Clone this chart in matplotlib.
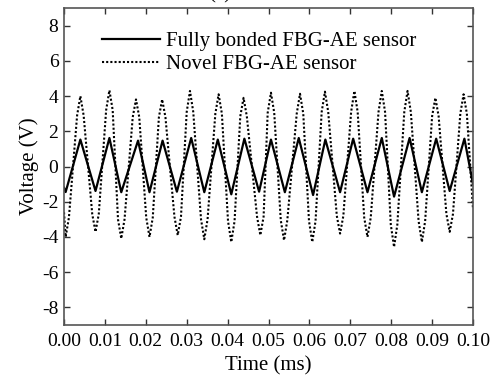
import matplotlib
matplotlib.use('Agg')
import matplotlib.pyplot as plt

# solid trace: peaks / troughs (time in ms, voltage in V)
solid_t = [0.0, 0.0004, 0.0040, 0.0077, 0.0111, 0.0140, 0.0181, 0.0209, 0.0241, 0.0276,
           0.0311, 0.0343, 0.0376, 0.0409, 0.0441, 0.0477, 0.0506, 0.0540, 0.0574, 0.0609,
           0.0639, 0.0675, 0.0707, 0.0742, 0.0777, 0.0807, 0.0845, 0.0875, 0.0910, 0.0943,
           0.0979, 0.1000]
solid_v = [-1.2, -1.45, 1.53, -1.39, 1.62, -1.46, 1.47, -1.46, 1.47, -1.43,
           1.62, -1.46, 1.53, -1.58, 1.58, -1.43, 1.53, -1.46, 1.62, -1.62,
           1.53, -1.46, 1.58, -1.46, 1.62, -1.71, 1.62, -1.46, 1.58, -1.39,
           1.58, -1.0]

# dotted trace: peaks / troughs plus shoulders either side
dotted_t = [0.0000, 0.0004, 0.0012,
            0.0032, 0.0040, 0.0048, 0.0069, 0.0077, 0.0085,
            0.0103, 0.0111, 0.0119, 0.0132, 0.0140, 0.0148,
            0.0168, 0.0176, 0.0184, 0.0201, 0.0209, 0.0217,
            0.0232, 0.0240, 0.0248, 0.0270, 0.0278, 0.0286,
            0.0300, 0.0308, 0.0316, 0.0335, 0.0343, 0.0351,
            0.0370, 0.0378, 0.0386, 0.0401, 0.0409, 0.0417,
            0.0431, 0.0439, 0.0447, 0.0472, 0.0480, 0.0488,
            0.0498, 0.0506, 0.0514, 0.0530, 0.0538, 0.0546,
            0.0569, 0.0577, 0.0585, 0.0599, 0.0607, 0.0615,
            0.0630, 0.0638, 0.0646, 0.0667, 0.0675, 0.0683,
            0.0702, 0.0710, 0.0718, 0.0734, 0.0742, 0.0750,
            0.0769, 0.0777, 0.0785, 0.0799, 0.0807, 0.0815,
            0.0832, 0.0840, 0.0848, 0.0867, 0.0875, 0.0883,
            0.0900, 0.0908, 0.0916, 0.0935, 0.0943, 0.0951,
            0.0969, 0.0977, 0.0985, 0.1000]
dotted_v = [-2.6, -4.0, -2.9,
            2.9, 4.0, 2.9, -2.7, -3.71, -2.7,
            3.2, 4.33, 3.2, -3.0, -4.09, -3.0,
            2.8, 3.81, 2.8, -2.9, -4.0, -2.9,
            2.8, 3.81, 2.8, -2.85, -3.9, -2.85,
            3.1, 4.29, 3.1, -3.0, -4.13, -3.0,
            3.0, 4.1, 3.0, -3.1, -4.29, -3.1,
            2.85, 3.9, 2.85, -2.85, -3.9, -2.85,
            3.05, 4.19, 3.05, -3.05, -4.19, -3.05,
            3.0, 4.13, 3.0, -3.1, -4.29, -3.1,
            3.1, 4.25, 3.1, -2.8, -3.81, -2.8,
            3.1, 4.29, 3.1, -2.9, -4.0, -2.9,
            3.1, 4.29, 3.1, -3.3, -4.57, -3.3,
            3.1, 4.29, 3.1, -3.1, -4.29, -3.1,
            2.85, 3.9, 2.85, -2.7, -3.71, -2.7,
            3.0, 4.1, 3.0, -2.4]

labels = ["Fully bonded FBG-AE sensor", "Novel FBG-AE sensor"]
x_ticks = [0.00, 0.01, 0.02, 0.03, 0.04, 0.05, 0.06, 0.07, 0.08, 0.09, 0.10]
y_ticks = [-8, -6, -4, -2, 0, 2, 4, 6, 8]

plt.rcParams['font.family'] = ['Liberation Serif', 'DejaVu Serif']
plt.rcParams['axes.unicode_minus'] = False

fig = plt.figure(figsize=(4.97, 3.78), dpi=100)
ax = fig.add_axes([0.1288, 0.1402, 0.8229, 0.8386])

ax.plot(solid_t, solid_v, color='black', lw=1.6, label=labels[0])
ax.plot(dotted_t, dotted_v, color='black', lw=1.5, linestyle=(0, (1, 1)), label=labels[1])

ax.set_xlim(0, 0.10)
ax.set_ylim(-9, 9)
ax.set_xticks(x_ticks)
ax.set_xticklabels([f"{t:.2f}" for t in x_ticks])
ax.set_yticks(y_ticks)
ax.tick_params(direction='in', length=4, width=1, colors='#333333', labelcolor='black',
               labelsize=14, top=True, right=True)
ax.tick_params(axis='x', pad=6)
ax.tick_params(axis='y', pad=4)
for s in ax.spines.values():
    s.set_color('#555555')
    s.set_linewidth(1.2)

ax.set_xlabel('Time (ms)', fontsize=15, labelpad=4)
ax.set_ylabel('Voltage (V)', fontsize=15, labelpad=2)

ax.legend(loc='upper left', bbox_to_anchor=(0.093, 0.925), frameon=False, fontsize=15,
          handlelength=2.8, handletextpad=0.25, borderpad=0, borderaxespad=0,
          labelspacing=0.15)

# panel label, cut off at the top edge as in the reference
fig.text(0.443, 1 - 3 / 378, '(a)', fontsize=15, ha='center', va='bottom')

fig.savefig('out.png', dpi=100)
